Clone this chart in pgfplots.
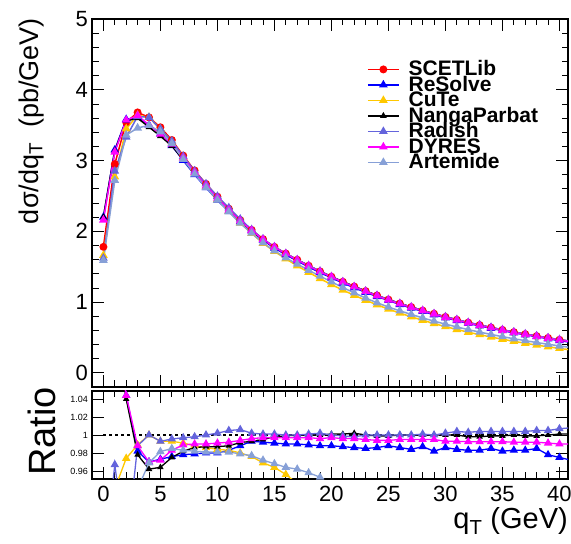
\documentclass[border=0pt]{standalone}
\usepackage{fontspec}
\setmainfont{Liberation Sans}
\usepackage{pgfplots}
\pgfplotsset{compat=1.18}

\definecolor{scet}{RGB}{255,0,0}
\definecolor{resolve}{RGB}{0,0,255}
\definecolor{cute}{RGB}{255,200,0}
\definecolor{radish}{RGB}{100,100,220}
\definecolor{dyres}{RGB}{255,0,255}
\definecolor{artemide}{RGB}{135,160,215}

\newcommand\legtxt[1]{\raisebox{0pt}[14pt][2.7pt]{#1}}

\pgfplotsset{
  rootframe/.style={
    scale only axis, width=476pt,
    xmin=-1, xmax=40.75,
    axis line style={line width=1.5pt},
    tick style={line width=0.8pt, black},
    tick align=inside,
    major tick length=12pt, minor tick length=6.5pt,
    xtick={0,5,...,40}, minor x tick num=4,
    /pgf/number format/assume math mode=true,
    ticklabel style={inner sep=0pt},
    yticklabel style={xshift=-4pt},
    xticklabel style={yshift=-7pt},
  },
  sSCET/.style={color=scet, line width=1.5pt, mark=*, mark size=3.2pt, mark options={solid}},
  sRES/.style={color=resolve, line width=1.5pt, mark=triangle*, mark size=3.6pt, mark options={solid}},
  sCUTE/.style={color=cute, line width=1.5pt, mark=triangle*, mark size=3.6pt, mark options={solid}},
  sNP/.style={color=black, line width=1.5pt, mark=triangle*, mark size=2.5pt, mark options={solid}},
  sRAD/.style={color=radish, line width=1.5pt, mark=triangle*, mark size=3.6pt, mark options={solid}},
  sDY/.style={color=dyres, line width=1.5pt, mark=triangle*, mark size=3.6pt, mark options={solid}},
  sART/.style={color=artemide, line width=1.5pt, mark=triangle*, mark size=3.6pt, mark options={solid}},
}

\begin{document}
\begin{tikzpicture}
\useasboundingbox (0pt,0pt) rectangle (571pt,544pt);

% main panel
\begin{axis}[rootframe,
  at={(92pt,157pt)}, anchor=south west, height=368pt,
  ymin=-0.2, ymax=5, ytick={0,1,2,3,4,5}, minor y tick num=4,
  xticklabels={},
  yticklabel style={font=\fontsize{22}{22}\selectfont},
  legend style={at={(0.578,0.884)}, anchor=north west, draw=none, fill=none,
    inner sep=0pt, outer sep=0pt, row sep=0pt,
    font=\fontsize{21}{21}\bfseries\selectfont,
    nodes={inner sep=0pt},
    /tikz/every odd column/.append style={column sep=9pt}},
  legend cell align=left,
  legend image code/.code={\draw[mark repeat=2,mark phase=2,#1] plot coordinates {(0pt,0pt) (15.5pt,0pt) (31pt,0pt)};},
]
\addplot[sSCET] coordinates {(0,1.78)(1,2.95)(2,3.54)(3,3.68)(4,3.61)(5,3.47)(6,3.29)(7,3.07)(8,2.86)(9,2.67)(10,2.49)(11,2.32)(12,2.16)(13,2.02)(14,1.89)(15,1.78)(16,1.686)(17,1.598)(18,1.514)(19,1.434)(20,1.359)(21,1.287)(22,1.220)(23,1.155)(24,1.094)(25,1.035)(26,0.98)(27,0.93)(28,0.88)(29,0.835)(30,0.79)(31,0.75)(32,0.71)(33,0.675)(34,0.64)(35,0.607)(36,0.576)(37,0.547)(38,0.519)(39,0.493)(40,0.467)(41,0.444)};
\addlegendentry{\legtxt{SCETLib}}
\addplot[sRES] coordinates {(0,2.20)(1,3.15)(2,3.58)(3,3.614)(4,3.502)(5,3.376)(6,3.211)(7,3.002)(8,2.800)(9,2.617)(10,2.440)(11,2.281)(12,2.134)(13,2.006)(14,1.875)(15,1.764)(16,1.669)(17,1.582)(18,1.497)(19,1.417)(20,1.343)(21,1.270)(22,1.203)(23,1.138)(24,1.079)(25,1.023)(26,0.966)(27,0.915)(28,0.869)(29,0.820)(30,0.779)(31,0.738)(32,0.698)(33,0.664)(34,0.630)(35,0.596)(36,0.566)(37,0.538)(38,0.511)(39,0.482)(40,0.455)(41,0.432)};
\addlegendentry{\legtxt{ReSolve}}
\addplot[sCUTE] coordinates {(0,1.66)(1,2.77)(2,3.448)(3,3.640)(4,3.61)(5,3.446)(6,3.267)(7,3.042)(8,2.826)(9,2.633)(10,2.450)(11,2.281)(12,2.117)(13,1.972)(14,1.831)(15,1.716)(16,1.612)(17,1.512)(18,1.420)(19,1.331)(20,1.248)(21,1.169)(22,1.096)(23,1.026)(24,0.962)(25,0.900)(26,0.844)(27,0.792)(28,0.743)(29,0.697)(30,0.653)(31,0.613)(32,0.574)(33,0.540)(34,0.506)(35,0.475)(36,0.446)(37,0.418)(38,0.392)(39,0.368)(40,0.345)(41,0.324)};
\addlegendentry{\legtxt{CuTe}}
\addplot[sNP] coordinates {(0,2.20)(1,3.14)(2,3.56)(3,3.599)(4,3.473)(5,3.345)(6,3.208)(7,3.015)(8,2.820)(9,2.635)(10,2.458)(11,2.292)(12,2.142)(13,2.006)(14,1.881)(15,1.776)(16,1.684)(17,1.598)(18,1.514)(19,1.434)(20,1.360)(21,1.288)(22,1.222)(23,1.155)(24,1.093)(25,1.034)(26,0.98)(27,0.93)(28,0.88)(29,0.835)(30,0.79)(31,0.75)(32,0.709)(33,0.674)(34,0.639)(35,0.606)(36,0.576)(37,0.546)(38,0.518)(39,0.493)(40,0.467)(41,0.444)};
\addlegendentry{\legtxt{NangaParbat}}
\addplot[sRAD] coordinates {(0,1.62)(1,2.85)(2,3.33)(3,3.625)(4,3.61)(5,3.446)(6,3.275)(7,3.061)(8,2.854)(9,2.67)(10,2.495)(11,2.332)(12,2.173)(13,2.024)(14,1.892)(15,1.782)(16,1.686)(17,1.598)(18,1.516)(19,1.437)(20,1.359)(21,1.286)(22,1.218)(23,1.155)(24,1.094)(25,1.035)(26,0.98)(27,0.93)(28,0.881)(29,0.835)(30,0.792)(31,0.753)(32,0.712)(33,0.678)(34,0.643)(35,0.609)(36,0.578)(37,0.549)(38,0.522)(39,0.495)(40,0.470)(41,0.448)};
\addlegendentry{\legtxt{Radish}}
\addplot[sDY] coordinates {(0,2.16)(1,3.12)(2,3.57)(3,3.636)(4,3.502)(5,3.373)(6,3.234)(7,3.036)(8,2.831)(9,2.643)(10,2.468)(11,2.301)(12,2.147)(13,2.012)(14,1.884)(15,1.775)(16,1.681)(17,1.593)(18,1.509)(19,1.428)(20,1.355)(21,1.282)(22,1.215)(23,1.149)(24,1.087)(25,1.029)(26,0.975)(27,0.925)(28,0.876)(29,0.831)(30,0.784)(31,0.745)(32,0.705)(33,0.670)(34,0.635)(35,0.602)(36,0.571)(37,0.543)(38,0.515)(39,0.489)(40,0.462)(41,0.440)};
\addlegendentry{\legtxt{DYRES}}
\addplot[sART] coordinates {(0,1.59)(1,2.72)(2,3.36)(3,3.46)(4,3.498)(5,3.406)(6,3.241)(7,3.018)(8,2.809)(9,2.619)(10,2.443)(11,2.276)(12,2.115)(13,1.974)(14,1.837)(15,1.723)(16,1.625)(17,1.537)(18,1.450)(19,1.367)(20,1.286)(21,1.205)(22,1.130)(23,1.057)(24,0.990)(25,0.930)(26,0.876)(27,0.826)(28,0.776)(29,0.731)(30,0.688)(31,0.649)(32,0.610)(33,0.576)(34,0.543)(35,0.511)(36,0.482)(37,0.455)(38,0.428)(39,0.404)(40,0.380)(41,0.359)};
\addlegendentry{\legtxt{Artemide}}
\end{axis}

% ratio panel
\begin{axis}[rootframe,
  at={(92pt,65pt)}, anchor=south west, height=88pt,
  ymin=0.951, ymax=1.049,
  ytick={0.96,0.98,1,1.02,1.04}, yticklabels={0.96,0.98,1,1.02,1.04},
  yticklabel style={font=\fontsize{9}{9}\selectfont},
  xticklabel style={font=\fontsize{22}{22}\selectfont},
  xticklabels={0,5,10,15,20,25,30,35,40},
]
\addplot[black, line width=1.2pt, dash pattern=on 3pt off 3pt] coordinates {(0,1) (40,1)};
\addplot[sRES, line width=1.3pt] coordinates {(0,1.236)(1,1.12)(2,1.044)(3,0.982)(4,0.970)(5,0.973)(6,0.976)(7,0.978)(8,0.979)(9,0.980)(10,0.980)(11,0.983)(12,0.988)(13,0.993)(14,0.992)(15,0.991)(16,0.990)(17,0.990)(18,0.989)(19,0.988)(20,0.988)(21,0.987)(22,0.986)(23,0.985)(24,0.986)(25,0.988)(26,0.986)(27,0.984)(28,0.987)(29,0.982)(30,0.986)(31,0.984)(32,0.983)(33,0.983)(34,0.985)(35,0.982)(36,0.983)(37,0.983)(38,0.985)(39,0.978)(40,0.975)(41,0.972)};
\addplot[sCUTE, line width=1.3pt] coordinates {(0,0.933)(1,0.94)(2,0.974)(3,0.989)(4,1.000)(5,0.993)(6,0.993)(7,0.991)(8,0.988)(9,0.986)(10,0.984)(11,0.983)(12,0.980)(13,0.976)(14,0.969)(15,0.964)(16,0.956)(17,0.946)(18,0.938)(19,0.928)(20,0.918)(21,0.908)(22,0.898)(23,0.888)(24,0.879)(25,0.870)(26,0.861)(27,0.852)(28,0.844)(29,0.835)(30,0.826)(31,0.817)(32,0.809)(33,0.800)(34,0.791)(35,0.782)(36,0.774)(37,0.765)(38,0.756)(39,0.747)(40,0.739)(41,0.730)};
\addplot[sNP, line width=1.3pt] coordinates {(0,1.236)(1,1.12)(2,1.04)(3,0.978)(4,0.962)(5,0.964)(6,0.975)(7,0.982)(8,0.986)(9,0.987)(10,0.987)(11,0.988)(12,0.9915)(13,0.993)(14,0.995)(15,0.998)(16,0.999)(17,1.000)(18,1.000)(19,1.000)(20,1.001)(21,1.001)(22,1.002)(23,1.000)(24,0.999)(25,0.999)(26,1.000)(27,1.000)(28,1.000)(29,1.000)(30,1.000)(31,1.000)(32,0.998)(33,0.998)(34,0.999)(35,0.999)(36,1.000)(37,0.999)(38,0.999)(39,1.000)(40,1.001)(41,1.001)};
\addplot[sRAD, line width=1.3pt] coordinates {(0,0.85)(1,0.967)(2,0.87)(3,0.988)(4,1.000)(5,0.993)(6,0.9955)(7,0.997)(8,0.998)(9,1.000)(10,1.002)(11,1.005)(12,1.006)(13,1.002)(14,1.001)(15,1.001)(16,1.000)(17,1.000)(18,1.001)(19,1.002)(20,1.000)(21,0.999)(22,0.998)(23,1.000)(24,1.000)(25,1.000)(26,1.000)(27,1.000)(28,1.001)(29,1.000)(30,1.002)(31,1.004)(32,1.003)(33,1.004)(34,1.004)(35,1.004)(36,1.004)(37,1.004)(38,1.005)(39,1.005)(40,1.007)(41,1.008)};
\addplot[sDY, line width=1.3pt] coordinates {(0,1.213)(1,1.12)(2,1.044)(3,0.988)(4,0.970)(5,0.972)(6,0.983)(7,0.989)(8,0.990)(9,0.990)(10,0.991)(11,0.992)(12,0.994)(13,0.996)(14,0.997)(15,0.997)(16,0.997)(17,0.997)(18,0.997)(19,0.996)(20,0.997)(21,0.996)(22,0.996)(23,0.995)(24,0.994)(25,0.994)(26,0.995)(27,0.995)(28,0.995)(29,0.995)(30,0.993)(31,0.993)(32,0.9925)(33,0.9925)(34,0.9925)(35,0.9925)(36,0.992)(37,0.992)(38,0.992)(39,0.991)(40,0.990)(41,0.990)};
\addplot[sART, line width=1.3pt] coordinates {(0,0.893)(1,0.922)(2,0.935)(3,0.94)(4,0.969)(5,0.9815)(6,0.985)(7,0.983)(8,0.982)(9,0.981)(10,0.981)(11,0.981)(12,0.979)(13,0.977)(14,0.972)(15,0.968)(16,0.964)(17,0.962)(18,0.958)(19,0.953)(20,0.946)(21,0.936)(22,0.926)(23,0.915)(24,0.905)(25,0.899)(26,0.894)(27,0.888)(28,0.882)(29,0.876)(30,0.871)(31,0.865)(32,0.859)(33,0.854)(34,0.848)(35,0.842)(36,0.837)(37,0.831)(38,0.825)(39,0.820)(40,0.814)(41,0.808)};
\end{axis}

\node[rotate=90, anchor=base east, inner sep=0pt, font=\fontsize{27}{27}\selectfont] at (38pt,526pt) {dσ/dq\textsubscript{T}\ \ (pb/GeV)};
\node[rotate=90, anchor=base east, inner sep=0pt, font=\fontsize{38}{38}\selectfont] at (55pt,157pt) {Ratio};
\node[anchor=base east, inner sep=0pt, font=\fontsize{29}{29}\selectfont] at (568pt,15pt) {q\textsubscript{T} (GeV)};
\end{tikzpicture}
\end{document}
